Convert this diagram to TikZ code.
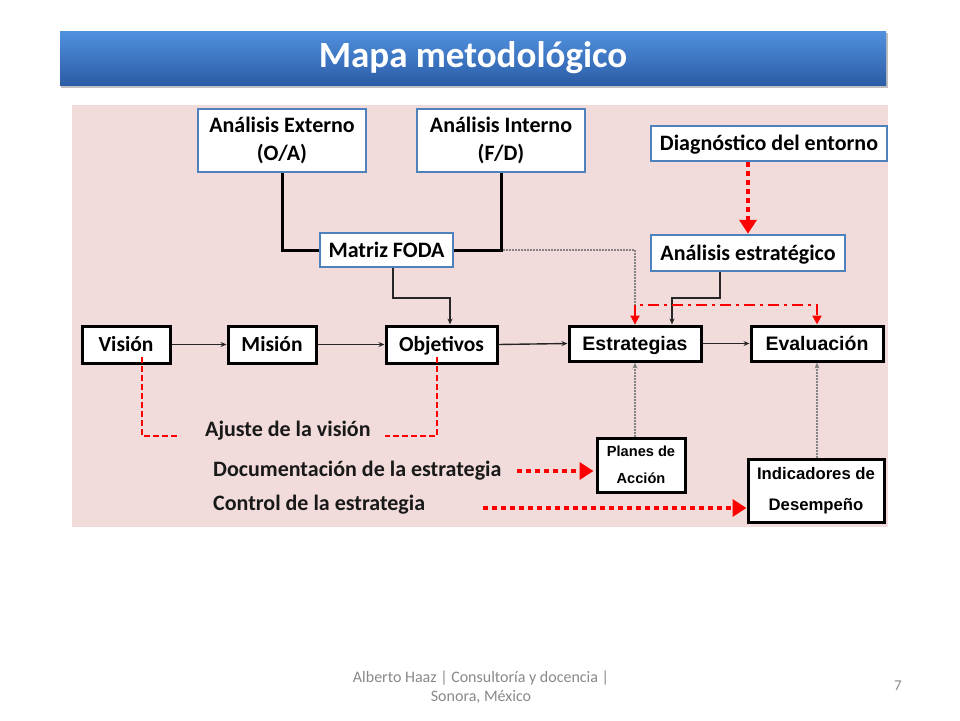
\documentclass[tikz,border=0pt]{standalone}
\usepackage{fontspec}
\setmainfont{Carlito}
\newfontfamily\arialf{Liberation Sans}
\usetikzlibrary{arrows.meta}
\definecolor{pinkbg}{RGB}{242,220,219}
\definecolor{boxblue}{RGB}{79,129,189}
\definecolor{titletop}{RGB}{80,145,222}
\definecolor{titlebot}{RGB}{44,92,166}
\definecolor{footgray}{RGB}{137,137,137}
\definecolor{dotgray}{RGB}{130,130,130}
\definecolor{redc}{RGB}{255,0,0}
\tikzset{
  bluebox/.style={draw=boxblue, line width=2.5pt, fill=white, inner sep=0pt, align=center,
    font=\bfseries\fontsize{22}{28}\selectfont},
  oneline/.style={text height=14pt, text depth=0pt},
  blackbox/.style={draw=black, line width=3pt, fill=white, inner sep=0pt, align=center,
    font=\bfseries\fontsize{21.5}{24}\selectfont},
  arialbox/.style={blackbox, font=\arialf\bfseries\fontsize{19.5}{22}\selectfont},
  thickc/.style={draw=black, line width=3pt},
  thinarrow/.style={draw=black!85, line width=1.4pt, -{Stealth[length=6pt,width=5pt]}},
  grayd/.style={draw=dotgray, line width=1.1pt, dash pattern=on 1.5pt off 1.5pt},
  reddash/.style={draw=redc, line width=2.5pt, dash pattern=on 6pt off 3pt},
  reddashdot/.style={draw=redc, line width=2.2pt, dash pattern=on 11pt off 5pt on 3pt off 5pt},
  reddot/.style={draw=redc, line width=4.5pt, dash pattern=on 5pt off 4pt,
    -{Triangle[length=14pt,width=17pt]}},
  lbl/.style={anchor=west, inner sep=0pt, font=\bfseries\fontsize{22}{24}\selectfont, text=black!90}
}
\begin{document}
\begin{tikzpicture}[x=1pt,y=-1pt]
\useasboundingbox (0,0) rectangle (960,720);
\fill[white] (0,0) rectangle (960,720);
% title bar
\fill[black!25] (61,33) rectangle (888,88);
\shade[top color=titletop, bottom color=titlebot] (60,31) rectangle (886,85);
\node[text=white, font=\bfseries\fontsize{37}{40}\selectfont, inner sep=0pt] (title) at (473,58) {Mapa metodológico};
% background
\fill[pinkbg] (72,105) rectangle (888,527);
% nodes
\node[bluebox, minimum width=168pt, minimum height=63pt] (ext) at (282,140.5) {Análisis Externo\\(O/A)};
\node[bluebox, minimum width=168pt, minimum height=63pt] (int) at (501,140.5) {Análisis Interno\\(F/D)};
\node[bluebox, oneline, minimum width=236pt, minimum height=35pt] (diag) at (769,143.5) {Diagnóstico del entorno};
\node[bluebox, oneline, minimum width=133pt, minimum height=34pt] (foda) at (386.5,250) {Matriz FODA};
\node[bluebox, oneline, minimum width=194pt, minimum height=36pt] (aest) at (748,253) {Análisis estratégico};
\node[blackbox, oneline, minimum width=88pt, minimum height=37pt] (vis) at (126,344.5) {Visión};
\node[blackbox, oneline, minimum width=88pt, minimum height=37pt] (mis) at (272,344.5) {Misión};
\node[blackbox, oneline, minimum width=111pt, minimum height=37pt] (obj) at (441.5,344.5) {Objetivos};
\node[arialbox, oneline, minimum width=132pt, minimum height=35pt] (est) at (635,343.5) {Estrategias};
\node[arialbox, oneline, minimum width=132pt, minimum height=35pt] (eva) at (817,343.5) {Evaluación};
\node[arialbox, minimum width=88pt, minimum height=54pt, font=\arialf\bfseries\fontsize{14.6}{27}\selectfont] (plan) at (641,465) {Planes de\\Acción};
\node[arialbox, minimum width=136pt, minimum height=63pt, font=\arialf\bfseries\fontsize{16.7}{31}\selectfont] (ind) at (816,490.5) {Indicadores de\\Desempeño};
% labels
\node[lbl] (ajuste) at (205,431) {Ajuste de la visión};
\node[lbl] (doc) at (213,471) {Documentación de la estrategia};
\node[lbl] (ctrl) at (213,505) {Control de la estrategia};
% black connectors
\draw[thickc] (ext.south) |- (foda.west);
\draw[thickc] (int.south) |- (foda.east);
\coordinate (fx) at (393,298);
\draw[thinarrow] (foda.south -| fx) -- (fx) -| ([xshift=8.5pt]obj.north);
\coordinate (ax) at (720,298);
\draw[thinarrow] (aest.south -| ax) -- (ax) -| ([xshift=37pt]est.north);
\draw[thinarrow] (vis) -- (mis);
\draw[thinarrow] (mis) -- (obj);
\draw[thinarrow] (obj.east) -- (est.west);
\draw[thinarrow] (est) -- (eva);
% gray dotted
\draw[grayd] ([xshift=2pt]int.south |- foda.east) -| (est.north);
\draw[grayd, -{Stealth[length=6pt,width=5pt]}, draw=dotgray] (est.south |- plan.north) -- (est.south);
\draw[grayd, -{Stealth[length=6pt,width=5pt]}, draw=dotgray] (eva.south |- ind.north) -- (eva.south);
% red dash-dot
\coordinate (rd) at (700,305);
\draw[reddashdot, {Triangle[length=9pt,width=9pt]}-{Triangle[length=9pt,width=9pt]}] (est.north) |- (rd) -| (eva.north);
% red dashed
\coordinate (v0) at (142,357);
\coordinate (v1) at (142,436);
\coordinate (v2) at (180,436);
\draw[reddash] (v0) -- (v1) -- (v2);
\coordinate (o0) at (437,357);
\coordinate (o1) at (437,436);
\coordinate (o2) at (385,436);
\draw[reddash] (o0) -- (o1) -- (o2);
% red dotted thick arrows
\draw[reddot] (aest.north |- diag.south) -- (aest.north);
\coordinate (d1) at (517,471);
\draw[reddot] (d1) -- ([xshift=-2pt]plan.west |- d1);
\coordinate (c1) at (483,508);
\draw[reddot] (c1) -- (ind.west |- c1);
% footer
\node[text=footgray, font=\fontsize{16}{19}\selectfont, align=center, inner sep=0pt] (foot) at (481,687) {Alberto Haaz | Consultoría y docencia |\\Sonora, México};
\node[text=footgray, font=\fontsize{15}{17}\selectfont, inner sep=0pt] (pg) at (898,686) {7};
\end{tikzpicture}
\end{document}
